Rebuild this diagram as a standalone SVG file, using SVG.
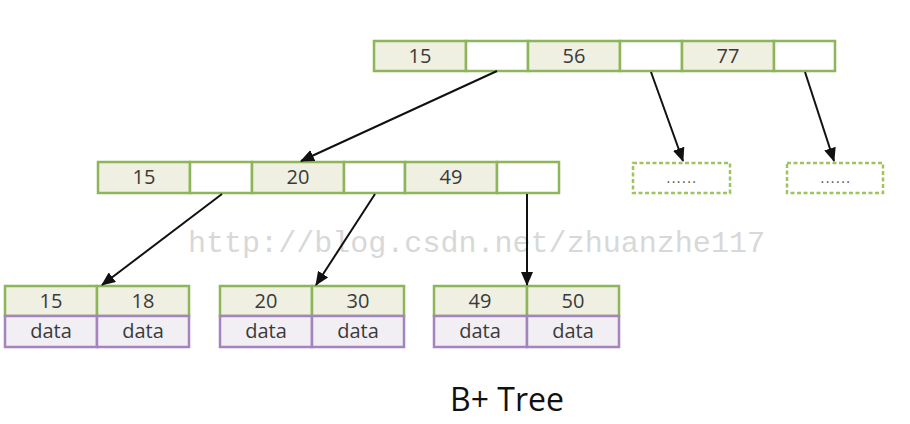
<svg xmlns="http://www.w3.org/2000/svg" width="910" height="424" viewBox="0 0 910 424">
<defs>
<marker id="ah" viewBox="0 0 14 12" refX="13" refY="6" markerWidth="14" markerHeight="12" markerUnits="userSpaceOnUse" orient="auto"><path d="M0,0 L14,6 L0,12 z" fill="#111"/></marker>
<style>
.k{fill:#efefe2;stroke:#8db55a;stroke-width:2.5}
.p{fill:#fff;stroke:#8db55a;stroke-width:2.5}
.d{fill:#f1eff4;stroke:#a583bf;stroke-width:2.5}
.dash{fill:#fff;stroke:#9ec45e;stroke-width:2.5;stroke-dasharray:4 2.5}
.t{font-family:"Open Sans","Noto Sans",sans-serif;font-size:20px;fill:#3a3a3a;text-anchor:middle}
.dots{font-family:"Open Sans",sans-serif;font-size:14px;fill:#555;text-anchor:middle;letter-spacing:1.5px}
.c{stroke:#111;stroke-width:2;fill:none;marker-end:url(#ah)}
</style>
</defs>
<rect width="910" height="424" fill="#fff"/>
<text x="188" y="252" textLength="577" lengthAdjust="spacingAndGlyphs" font-family="'Liberation Mono',monospace" font-size="29" fill="#d8d8d8">http://blog.csdn.net/zhuanzhe117</text>
<g id="root">
<rect class="k" x="374" y="41" width="92" height="30"/>
<rect class="p" x="466" y="41" width="62" height="30"/>
<rect class="k" x="528" y="41" width="92" height="30"/>
<rect class="p" x="620" y="41" width="62" height="30"/>
<rect class="k" x="682" y="41" width="92" height="30"/>
<rect class="p" x="774" y="41" width="61" height="30"/>
<text class="t" x="420" y="63">15</text>
<text class="t" x="574" y="63">56</text>
<text class="t" x="728" y="63">77</text>
</g>
<g id="mid">
<rect class="k" x="98" y="162" width="92" height="31"/>
<rect class="p" x="190" y="162" width="62" height="31"/>
<rect class="k" x="252" y="162" width="92" height="31"/>
<rect class="p" x="344" y="162" width="61" height="31"/>
<rect class="k" x="405" y="162" width="92" height="31"/>
<rect class="p" x="497" y="162" width="62" height="31"/>
<text class="t" x="144" y="184">15</text>
<text class="t" x="298" y="184">20</text>
<text class="t" x="451" y="184">49</text>
</g>
<g id="more1">
<rect class="dash" x="633" y="163" width="97" height="30"/>
<text class="dots" x="682" y="183">......</text>
</g>
<g id="more2">
<rect class="dash" x="787" y="163" width="96" height="30"/>
<text class="dots" x="836" y="183">......</text>
</g>
<g id="leaf1">
<rect class="k" x="5" y="286" width="92" height="30"/>
<rect class="k" x="97" y="286" width="92" height="30"/>
<rect class="d" x="5" y="316" width="92" height="31"/>
<rect class="d" x="97" y="316" width="92" height="31"/>
<text class="t" x="51" y="308">15</text>
<text class="t" x="143" y="308">18</text>
<text class="t" x="51" y="338">data</text>
<text class="t" x="143" y="338">data</text>
</g>
<g id="leaf2">
<rect class="k" x="220" y="286" width="92" height="30"/>
<rect class="k" x="312" y="286" width="92" height="30"/>
<rect class="d" x="220" y="316" width="92" height="31"/>
<rect class="d" x="312" y="316" width="92" height="31"/>
<text class="t" x="266" y="308">20</text>
<text class="t" x="358" y="308">30</text>
<text class="t" x="266" y="338">data</text>
<text class="t" x="358" y="338">data</text>
</g>
<g id="leaf3">
<rect class="k" x="434" y="286" width="93" height="30"/>
<rect class="k" x="527" y="286" width="92" height="30"/>
<rect class="d" x="434" y="316" width="93" height="31"/>
<rect class="d" x="527" y="316" width="92" height="31"/>
<text class="t" x="480" y="308">49</text>
<text class="t" x="573" y="308">50</text>
<text class="t" x="480" y="338">data</text>
<text class="t" x="573" y="338">data</text>
</g>
<g id="connectors">
<line class="c" x1="497" y1="71" x2="301" y2="161"/>
<line class="c" x1="651" y1="72" x2="683" y2="161"/>
<line class="c" x1="805" y1="72" x2="834" y2="161"/>
<line class="c" x1="222" y1="194" x2="102" y2="285"/>
<line class="c" x1="375" y1="194" x2="316" y2="285"/>
<line class="c" x1="527" y1="194" x2="527" y2="285"/>
</g>
<text x="507" y="411" font-family="'Open Sans','Noto Sans',sans-serif" font-size="32" fill="#111" text-anchor="middle">B+ Tree</text>
</svg>
